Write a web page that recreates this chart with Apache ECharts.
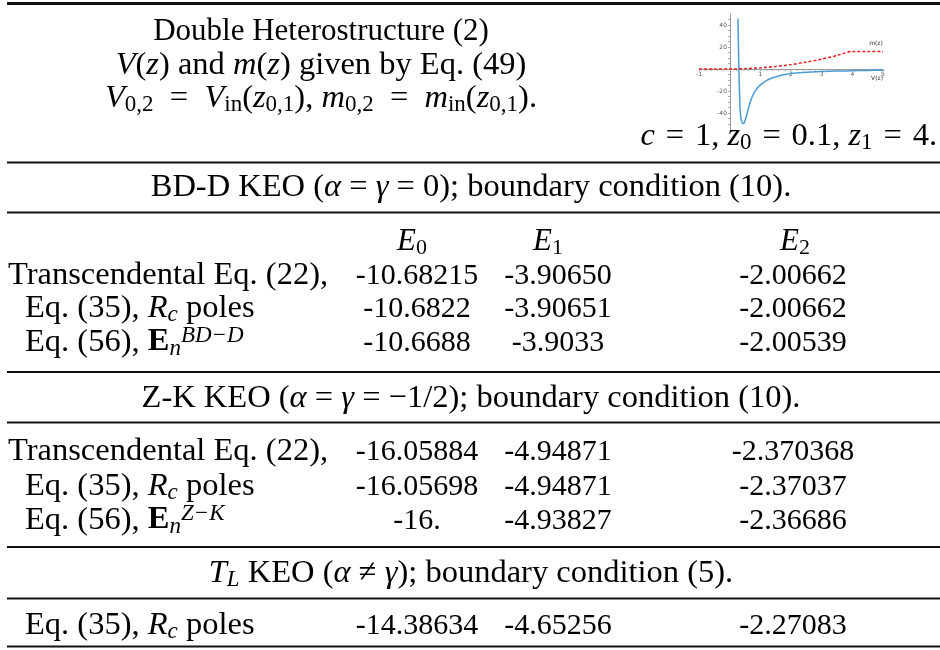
<!DOCTYPE html>
<html><head><meta charset="utf-8">
<script src="https://cdn.jsdelivr.net/npm/echarts@6/dist/echarts.min.js"></script>
<style>html,body{margin:0;padding:0;background:#fff}#main{width:940px;height:650px}</style>
</head><body><div id="main"></div>
<script>
// ---------- inset plot data ----------
const zV = [0.27, 0.285, 0.30, 0.32, 0.34, 0.37, 0.41, 0.456, 0.5, 0.55, 0.6, 0.65, 0.71, 0.8, 0.9, 1.0, 1.2, 1.4, 1.6, 1.8, 2.0, 2.5, 3.0, 3.5, 4.0, 4.5, 5.0];
const V  = [46, 22, 0, -20, -37, -45, -49, -49.5, -47, -42.5, -37, -32, -27, -21.5, -17.5, -14.5, -10.5, -8, -6.3, -5.1, -4.2, -2.9, -2.3, -1.9, -1.6, -1.3, -1.1];
const zM = [-1, -0.5, 0, 0.1, 0.5, 1, 1.5, 2, 2.5, 3, 3.5, 4, 4.5, 5];
const M  = [0, 0, 0, 0, 0.3, 1, 2.3, 4, 6.3, 9, 12.3, 16, 16, 16];
const xTickLabels = [-1, 1, 2, 3, 4, 5];
const yTickLabels = [-40, -20, 20, 40];
const xMinorTicks = [-1,-0.8,-0.6,-0.4,-0.2,0.2,0.4,0.6,0.8,1,1.2,1.4,1.6,1.8,2,2.2,2.4,2.6,2.8,3,3.2,3.4,3.6,3.8,4,4.2,4.4,4.6,4.8,5];
const yMinorTicks = [-50,-45,-40,-35,-30,-25,-20,-15,-10,-5,5,10,15,20,25,30,35,40,45];

// ---------- table data ----------
const EQ = '\u2002=\u2002', EQs = '\u2004=\u2004';
const headerLines = [
  'Double Heterostructure (2)',
  '{i|V}({i|z}) and {i|m}({i|z}) given by Eq. (49)',
  '{i|V}{sub|0,2}' + EQ + '{i|V}{sub|in}({i|z}{sub|0,1}), {i|m}{sub|0,2}' + EQ + '{i|m}{sub|in}({i|z}{sub|0,1}).'
];
const paramLine = '{i|c}' + EQs + '1, {i|z}{sub|0}' + EQs + '0.1, {i|z}{sub|1}' + EQs + '4.';
const columnHeads = ['{i|E}{sub|0}', '{i|E}{sub|1}', '{i|E}{sub|2}'];
const sectionTitles = [
  'BD-D KEO ({i|α} = {i|γ} = 0); boundary condition (10).',
  'Z-K KEO ({i|α} = {i|γ} = −1/2); boundary condition (10).',
  '{i|T}{subi|L} KEO ({i|α} ≠ {i|γ}); boundary condition (5).'
];
const bddLabels = ['Transcendental Eq. (22),', 'Eq. (35), {i|R}{subi|c} poles', 'Eq. (56), {b|E}{subi|n}{sup|BD−D}'];
const bddE0 = ['-10.68215', '-10.6822', '-10.6688'];
const bddE1 = ['-3.90650', '-3.90651', '-3.9033'];
const bddE2 = ['-2.00662', '-2.00662', '-2.00539'];
const zkLabels = ['Transcendental Eq. (22),', 'Eq. (35), {i|R}{subi|c} poles', 'Eq. (56), {b|E}{subi|n}{sup|Z−K}'];
const zkE0 = ['-16.05884', '-16.05698', '-16.'];
const zkE1 = ['-4.94871', '-4.94871', '-4.93827'];
const zkE2 = ['-2.370368', '-2.37037', '-2.36686'];
const tlLabels = ['Eq. (35), {i|R}{subi|c} poles'];
const tlE0 = ['-14.38634'];
const tlE1 = ['-4.65256'];
const tlE2 = ['-2.27083'];

// ---------- layout / style ----------
const FAM = "'Liberation Serif', 'Times New Roman', serif";
function richFor(fs) {
  const lh = Math.round(fs * 1.12), s = Math.round(fs * 0.7);
  return {
    i: {fontFamily: FAM, fontSize: fs, lineHeight: lh, fontStyle: 'italic', fill: '#000'},
    b: {fontFamily: FAM, fontSize: fs, lineHeight: lh, fontWeight: 'bold', fill: '#000'},
    sub: {fontFamily: FAM, fontSize: s, lineHeight: s, verticalAlign: 'bottom', fill: '#000'},
    subi: {fontFamily: FAM, fontSize: s, lineHeight: s, verticalAlign: 'bottom', fontStyle: 'italic', fill: '#000'},
    sup: {fontFamily: FAM, fontSize: s, lineHeight: s, verticalAlign: 'top', fontStyle: 'italic', fill: '#000'}
  };
}
function T(x, y, text, align, fs) {
  fs = fs || 30;
  return {
    type: 'text', x: x, y: y, silent: true,
    style: {
      text: text, rich: richFor(fs), fontFamily: FAM, fontSize: fs, lineHeight: Math.round(fs * 1.12), fill: '#000',
      align: align || 'center', verticalAlign: 'middle',
      textAlign: align || 'center', textVerticalAlign: 'middle'
    }
  };
}
function rule(y, h) {
  return {type: 'rect', silent: true, shape: {x: 7, y: y, width: 933, height: h}, style: {fill: '#111'}};
}
const TXT = 32.5, NUM = 30;
const g = [];
[2, 161.5, 211.5, 371, 421.5, 546, 597.5, 645.5].forEach((y, k) => g.push(rule(y, k === 0 ? 3 : 2)));
const hdrY = [32, 65, 98];
const hdrFs = [31, 32.5, 32.5];
headerLines.forEach((t, k) => g.push(T(321, hdrY[k], t, 'center', hdrFs[k])));
g.push(T(937, 136, paramLine, 'right', TXT));
const titleY = [187, 398, 573];
sectionTitles.forEach((t, k) => g.push(T(471, titleY[k], t, 'center', TXT)));
const colX = [417, 558, 793];
const headX = [412, 548, 795];
columnHeads.forEach((t, k) => g.push(T(headX[k], 242, t, 'center', 31)));
function block(labels, c0, c1, c2, ys) {
  labels.forEach((lab, r) => {
    g.push(T(lab.indexOf('Transcendental') === 0 ? 8 : 25, ys[r] - 1, lab, 'left', TXT));
    [c0, c1, c2].forEach((col, c) => g.push(T(colX[c], ys[r], col[r], 'center', NUM)));
  });
}
block(bddLabels, bddE0, bddE1, bddE2, [276, 309, 343]);
block(zkLabels, zkE0, zkE1, zkE2, [452, 487, 521]);
block(tlLabels, tlE0, tlE1, tlE2, [626]);
// inset curve labels
const smallTxt = (x, y, t) => ({type: 'text', x: x, y: y, silent: true, style: {text: t, fontSize: 6, fontFamily: 'DejaVu Sans', fill: '#333', align: 'center', verticalAlign: 'middle', textAlign: 'center', textVerticalAlign: 'middle'}});
g.push(smallTxt(876, 43, 'm(z)'));
g.push(smallTxt(877, 78, 'V(z)'));

const chart = echarts.init(document.getElementById('main'), null, {renderer: 'canvas'});
chart.setOption({
  animation: false,
  backgroundColor: '#fff',
  grid: {left: 699, top: 14, width: 184, height: 115.5, containLabel: false},
  xAxis: {
    type: 'value', min: -1, max: 5, position: 'bottom', offset: -60.5,
    axisLine: {onZero: false, lineStyle: {color: '#999', width: 1}},
    axisTick: {show: true, length: 2, customValues: xMinorTicks, lineStyle: {color: '#aaa'}},
    axisLabel: {customValues: xTickLabels, fontSize: 6, color: '#555', margin: 2, fontFamily: 'DejaVu Sans'},
    splitLine: {show: false}
  },
  yAxis: {
    type: 'value', min: -55, max: 50, position: 'left', offset: -31,
    axisLine: {show: true, onZero: false, lineStyle: {color: '#999', width: 1}},
    axisTick: {show: true, length: 2, customValues: yMinorTicks, lineStyle: {color: '#aaa'}},
    axisLabel: {customValues: yTickLabels, fontSize: 6, color: '#555', margin: 3, fontFamily: 'DejaVu Sans'},
    splitLine: {show: false}
  },
  series: [
    {type: 'line', data: zM.map((z, k) => [z, M[k]]), showSymbol: false, smooth: 0.2,
     lineStyle: {color: '#ee1c1c', width: 1.5, type: [3, 2]}, z: 3},
    {type: 'line', data: zV.map((z, k) => [z, V[k]]), showSymbol: false, smooth: 0.2,
     lineStyle: {color: '#4a9bd6', width: 1.5}, z: 2}
  ],
  graphic: {elements: g}
});
</script></body></html>
